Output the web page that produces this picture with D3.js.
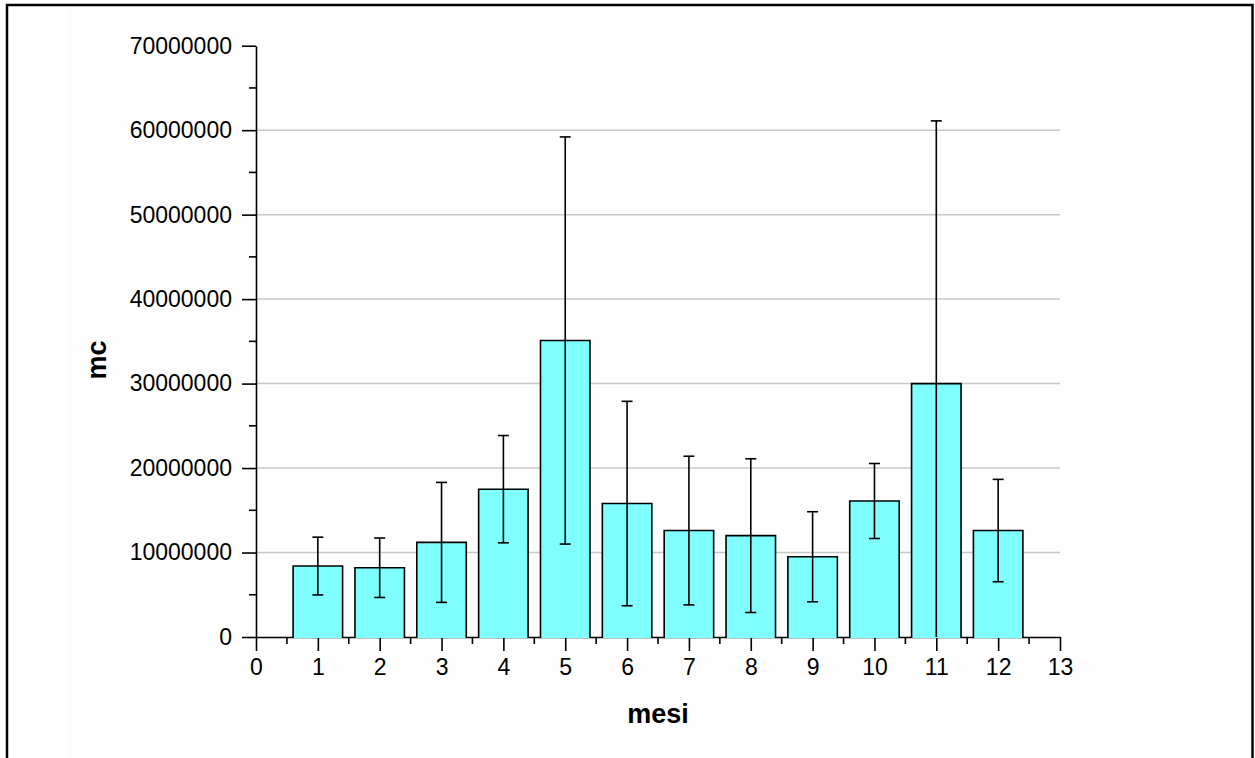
<!DOCTYPE html>
<html>
<head>
<meta charset="utf-8">
<script src="https://cdn.jsdelivr.net/npm/d3@7"></script>
<style>
  html, body { margin: 0; padding: 0; background: #ffffff; }
  svg { display: block; }
  text { font-family: "Liberation Sans", Arial, sans-serif; fill: #000; }
</style>
</head>
<body>
<svg id="chart" width="1255" height="758"></svg>
<script>
// Monthly means of mc with their error (± half-range)
const months = [1, 2, 3, 4, 5, 6, 7, 8, 9, 10, 11, 12];
const means  = [8.4e6, 8.2e6, 11.2e6, 17.5e6, 35.1e6, 15.8e6, 12.6e6, 12.0e6, 9.5e6, 16.1e6, 30.0e6, 12.6e6];
const errors = [3.42e6, 3.52e6, 7.1e6, 6.35e6, 24.1e6, 12.1e6, 8.8e6, 9.1e6, 5.33e6, 4.44e6, 31.1e6, 6.06e6];
const xTicks = d3.range(0, 14);
const yTicks = [0, 10000000, 20000000, 30000000, 40000000, 50000000, 60000000, 70000000];
const gridValues = [10000000, 20000000, 30000000, 40000000, 50000000, 60000000];

const svg = d3.select("#chart");

// page frame and panel background
svg.append("rect").attr("x", 68).attr("y", 6).attr("width", 1183).attr("height", 752)
  .attr("fill", "#fdfdfd");
svg.append("path")
  .attr("d", "M7,758 V5 H1252.5 V758")
  .attr("fill", "none").attr("stroke", "#000").attr("stroke-width", 2.5);

const x = d3.scaleLinear().domain([0, 13]).range([256, 1060]);
const y = d3.scaleLinear().domain([0, 70000000]).range([637, 45.7]);

// horizontal grid
svg.append("g").selectAll("line").data(gridValues).join("line")
  .attr("x1", x(0)).attr("x2", x(13))
  .attr("y1", d => y(d)).attr("y2", d => y(d))
  .attr("stroke", "#c8c8c8").attr("stroke-width", 1.5);

// x axis
const xAxis = svg.append("g").attr("transform", `translate(0,${y(0)})`)
  .call(d3.axisBottom(x).tickValues(xTicks).tickFormat(d3.format("d"))
    .tickSize(14).tickSizeOuter(0).tickPadding(8));
xAxis.select(".domain").attr("stroke", "#000").attr("stroke-width", 1.6);
xAxis.selectAll(".tick line").attr("stroke", "#000").attr("stroke-width", 1.6);
xAxis.selectAll(".tick text").attr("font-size", 23).attr("font-family", "Liberation Sans, Arial, sans-serif");

// x minor ticks
svg.append("g").selectAll("line").data(d3.range(0.5, 13, 1)).join("line")
  .attr("x1", d => x(d)).attr("x2", d => x(d))
  .attr("y1", y(0)).attr("y2", y(0) + 7)
  .attr("stroke", "#000").attr("stroke-width", 1.6);

// y axis
const yAxis = svg.append("g").attr("transform", `translate(${x(0)},0)`)
  .call(d3.axisLeft(y).tickValues(yTicks).tickFormat(d3.format("d"))
    .tickSize(14).tickSizeOuter(0).tickPadding(10));
yAxis.select(".domain").attr("stroke", "#000").attr("stroke-width", 1.6);
yAxis.selectAll(".tick line").attr("stroke", "#000").attr("stroke-width", 1.6);
yAxis.selectAll(".tick text").attr("font-size", 23).attr("font-family", "Liberation Sans, Arial, sans-serif");

// y minor ticks
svg.append("g").selectAll("line").data(d3.range(5000000, 70000000, 10000000)).join("line")
  .attr("x1", x(0) - 7).attr("x2", x(0))
  .attr("y1", d => y(d)).attr("y2", d => y(d))
  .attr("stroke", "#000").attr("stroke-width", 1.6);

// bars (open at the base so they sit over the axis line)
const barW = 0.8;
const bars = months.map((m, i) => ({ m, v: means[i], e: errors[i] }));
svg.append("g").selectAll("path").data(bars).join("path")
  .attr("d", d => {
    const x0 = x(d.m - barW / 2), x1 = x(d.m + barW / 2);
    return `M${x0},${y(0) + 1} V${y(d.v)} H${x1} V${y(0) + 1}`;
  })
  .attr("fill", "#80ffff").attr("stroke", "#000").attr("stroke-width", 1.6);

// error bars
const cap = 5.5;
const eg = svg.append("g").attr("stroke", "#000").attr("stroke-width", 1.6).attr("fill", "none");
bars.forEach(d => {
  const cx = x(d.m);
  const hi = d.v + d.e;
  const lo = Math.max(d.v - d.e, 0);
  eg.append("line").attr("x1", cx).attr("x2", cx).attr("y1", y(hi)).attr("y2", y(lo));
  eg.append("line").attr("x1", cx - cap).attr("x2", cx + cap).attr("y1", y(hi)).attr("y2", y(hi));
  if (d.v - d.e > 0) {
    eg.append("line").attr("x1", cx - cap).attr("x2", cx + cap).attr("y1", y(lo)).attr("y2", y(lo));
  }
});

// axis titles
svg.append("text").attr("x", (x(0) + x(13)) / 2).attr("y", 723)
  .attr("text-anchor", "middle").attr("font-size", 27).attr("font-weight", "bold")
  .text("mesi");
svg.append("text").attr("transform", "translate(106,360) rotate(-90)")
  .attr("text-anchor", "middle").attr("font-size", 27).attr("font-weight", "bold")
  .text("mc");
</script>
</body>
</html>
